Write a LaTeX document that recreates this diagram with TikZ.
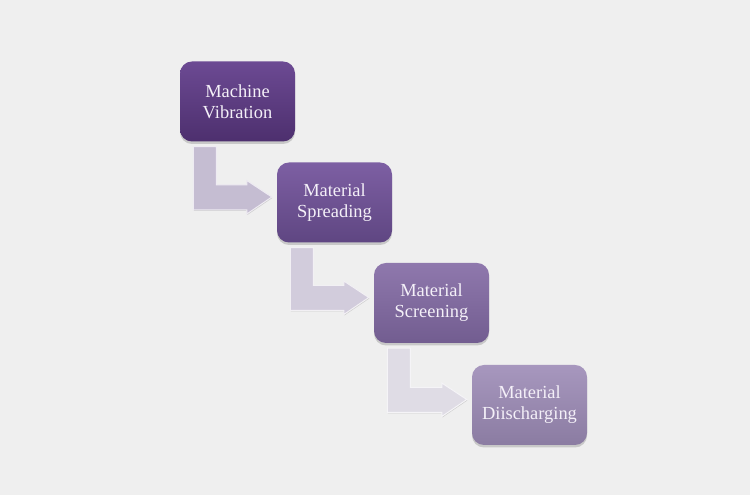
\documentclass[tikz,border=0pt]{standalone}
\usepackage{fontspec}
\setmainfont{Liberation Serif}
\usepackage{tikz}
\usetikzlibrary{calc,shadows}

\definecolor{bgcol}{HTML}{EFEFEF}
\definecolor{txtcol}{HTML}{F4F0F8}
\definecolor{oneTop}{HTML}{6C4A93}
\definecolor{oneBot}{HTML}{4D2F6E}
\definecolor{twoTop}{HTML}{7D5FA3}
\definecolor{twoBot}{HTML}{5F4682}
\definecolor{threeTop}{HTML}{8F78AD}
\definecolor{threeBot}{HTML}{725D90}
\definecolor{fourTop}{HTML}{A797BE}
\definecolor{fourBot}{HTML}{8B7CA2}
\definecolor{arrOne}{HTML}{C5BDD2}
\definecolor{arrTwo}{HTML}{D2CCDC}
\definecolor{arrThree}{HTML}{DFDCE5}

\tikzset{
  stage/.style={rectangle, rounded corners=12bp, minimum width=115bp,
    minimum height=80bp, align=center, text=txtcol,
    font=\fontsize{18.5}{21}\selectfont,
    drop shadow={shadow xshift=0bp, shadow yshift=-2.5bp, opacity=0.35}},
  bentarr/.style={draw=white!70!#1, line width=1bp, fill=#1,
    drop shadow={shadow xshift=0.5bp, shadow yshift=-1bp, opacity=0.3}}
}

% bent block arrow from the bottom of #1 to the left side of #2
\newcommand{\bentarrow}[3]{%
  \path[bentarr=#3] let \p1=(#1.south west), \p2=(#2.west) in
    (\x1+13.5bp,\y1-5bp) -- (\x1+36.5bp,\y1-5bp)
    -- (\x1+36.5bp,\y2+17.5bp) -- (\x2-30bp,\y2+17.5bp)
    -- (\x2-30bp,\y2+22bp) -- (\x2-5bp,\y2+5.5bp)
    -- (\x2-30bp,\y2-11.5bp) -- (\x2-30bp,\y2-7.5bp)
    -- (\x1+13.5bp,\y2-7.5bp) -- cycle;}

\begin{document}
\begin{tikzpicture}[x=1bp,y=1bp]
  \fill[bgcol] (0,0) rectangle (750,495);
  \useasboundingbox (0,0) rectangle (750,495);

  % the four stages
  \node[stage, top color=oneTop, bottom color=oneBot] (vib) at (237.5,393.5)
    {Machine\\Vibration};
  \node[stage, top color=twoTop, bottom color=twoBot] (spread) at (334.5,292.5)
    {Material\\Spreading};
  \node[stage, top color=threeTop, bottom color=threeBot] (screen) at (431.5,192)
    {Material\\Screening};
  \node[stage, top color=fourTop, bottom color=fourBot] (disch) at (529.5,90)
    {Material\\Diischarging};

  % arrows between them
  \bentarrow{vib}{spread}{arrOne}
  \bentarrow{spread}{screen}{arrTwo}
  \bentarrow{screen}{disch}{arrThree}
\end{tikzpicture}
\end{document}
